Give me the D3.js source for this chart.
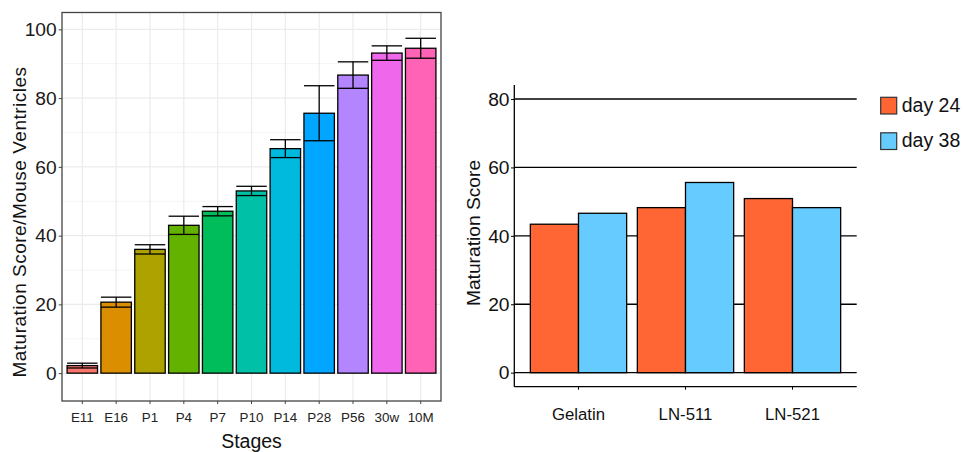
<!DOCTYPE html>
<html>
<head>
<meta charset="utf-8">
<script src="https://cdn.jsdelivr.net/npm/d3@7"></script>
<style>
  html, body { margin: 0; padding: 0; background: #fff; }
  svg { display: block; font-family: "Liberation Sans", Arial, sans-serif; }
</style>
</head>
<body>
<svg id="chart" width="963" height="452"></svg>
<script>
// Stage maturation scores (mean and error)
const stages = ["E11", "E16", "P1", "P4", "P7", "P10", "P14", "P28", "P56", "30w", "10M"];
const stageMeans = [2.2, 20.65, 36.0, 43.0, 47.1, 53.0, 65.3, 75.6, 86.7, 93.1, 94.5];
const stageErrors = [0.7, 1.45, 1.35, 2.65, 1.35, 1.35, 2.6, 8.0, 3.85, 2.1, 2.9];
const stageColors = ["#F8766D", "#DB8E00", "#AEA200", "#64B200", "#00BD5C", "#00C1A7",
                     "#00BADE", "#00A6FF", "#B385FF", "#EF67EB", "#FF63B6"];
const leftTicks = [0, 20, 40, 60, 80, 100];
const leftMinor = [10, 30, 50, 70, 90];

// Substrate comparison
const substrates = ["Gelatin", "LN-511", "LN-521"];
const seriesNames = ["day 24", "day 38"];
const day24 = [43.4, 48.25, 50.9];
const day38 = [46.6, 55.6, 48.25];
const seriesColors = ["#FF6633", "#66CCFF"];
const rightTicks = [0, 20, 40, 60, 80];

const svg = d3.select("#chart");

// ---------- Left panel ----------
const L = { x0: 62, x1: 441, y0: 12.5, y1: 401 };
const xL = d3.scaleBand().domain(stages).range([L.x0, L.x1])
  .paddingInner(0.1).paddingOuter(0.15);
const yL = d3.scaleLinear().domain([-8.1, 104.9]).range([L.y1, L.y0]);

const gL = svg.append("g");
// minor grid
gL.selectAll("line.minor").data(leftMinor).join("line")
  .attr("x1", L.x0).attr("x2", L.x1)
  .attr("y1", d => yL(d)).attr("y2", d => yL(d))
  .attr("stroke", "#f4f4f4").attr("stroke-width", 1);
// major grid
gL.selectAll("line.majorY").data(leftTicks).join("line")
  .attr("x1", L.x0).attr("x2", L.x1)
  .attr("y1", d => yL(d)).attr("y2", d => yL(d))
  .attr("stroke", "#ebebeb").attr("stroke-width", 1.2);
gL.selectAll("line.majorX").data(stages).join("line")
  .attr("y1", L.y0).attr("y2", L.y1)
  .attr("x1", d => xL(d) + xL.bandwidth() / 2).attr("x2", d => xL(d) + xL.bandwidth() / 2)
  .attr("stroke", "#ebebeb").attr("stroke-width", 1.2);

// bars
gL.selectAll("rect.bar").data(stages).join("rect")
  .attr("x", d => xL(d))
  .attr("width", xL.bandwidth())
  .attr("y", (d, i) => yL(stageMeans[i]))
  .attr("height", (d, i) => yL(0) - yL(stageMeans[i]))
  .attr("fill", (d, i) => stageColors[i])
  .attr("stroke", "#000").attr("stroke-width", 1.3);

// error bars
const eb = gL.selectAll("g.err").data(stages).join("g");
eb.append("line")
  .attr("x1", d => xL(d) + xL.bandwidth() / 2).attr("x2", d => xL(d) + xL.bandwidth() / 2)
  .attr("y1", (d, i) => yL(stageMeans[i] - stageErrors[i]))
  .attr("y2", (d, i) => yL(stageMeans[i] + stageErrors[i]))
  .attr("stroke", "#000").attr("stroke-width", 1.3);
eb.append("line")
  .attr("x1", d => xL(d)).attr("x2", d => xL(d) + xL.bandwidth())
  .attr("y1", (d, i) => yL(stageMeans[i] + stageErrors[i]))
  .attr("y2", (d, i) => yL(stageMeans[i] + stageErrors[i]))
  .attr("stroke", "#000").attr("stroke-width", 1.3);
eb.append("line")
  .attr("x1", d => xL(d)).attr("x2", d => xL(d) + xL.bandwidth())
  .attr("y1", (d, i) => yL(stageMeans[i] - stageErrors[i]))
  .attr("y2", (d, i) => yL(stageMeans[i] - stageErrors[i]))
  .attr("stroke", "#000").attr("stroke-width", 1.3);

// panel border
gL.append("rect")
  .attr("x", L.x0).attr("y", L.y0)
  .attr("width", L.x1 - L.x0).attr("height", L.y1 - L.y0)
  .attr("fill", "none").attr("stroke", "#444").attr("stroke-width", 1.3);

// axes
const axL = gL.append("g").attr("transform", `translate(${L.x0},0)`)
  .call(d3.axisLeft(yL).tickValues(leftTicks).tickSize(3.3).tickPadding(2));
axL.select(".domain").remove();
axL.selectAll("line").attr("stroke", "#444");
axL.selectAll("text").attr("font-size", 19.2).attr("fill", "#1a1a1a");

const axB = gL.append("g").attr("transform", `translate(0,${L.y1})`)
  .call(d3.axisBottom(xL).tickSize(3).tickPadding(8));
axB.select(".domain").remove();
axB.selectAll("line").attr("stroke", "#444");
axB.selectAll("text").attr("font-size", 13.4).attr("fill", "#222");

gL.append("text")
  .attr("x", (L.x0 + L.x1) / 2).attr("y", 448)
  .attr("text-anchor", "middle").attr("font-size", 19.5).attr("fill", "#111")
  .text("Stages");
gL.append("text")
  .attr("transform", "translate(26,222) rotate(-90)")
  .attr("text-anchor", "middle").attr("font-size", 19).attr("letter-spacing", 0.5)
  .attr("fill", "#111")
  .text("Maturation Score/Mouse Ventricles");

// ---------- Right panel ----------
const R = { x0: 514.3, x1: 856.7, y0: 85, y1: 386.7 };
const xR = d3.scaleBand().domain(substrates).range([R.x0, R.x1])
  .paddingInner(0.1).paddingOuter(0.15);
const xS = d3.scaleBand().domain(seriesNames).range([0, xR.bandwidth()]);
const yR = d3.scaleLinear().domain([-4.1, 84.1]).range([R.y1, R.y0]);

const gR = svg.append("g");
gR.selectAll("line.grid").data(rightTicks).join("line")
  .attr("x1", R.x0).attr("x2", R.x1)
  .attr("y1", d => yR(d)).attr("y2", d => yR(d))
  .attr("stroke", "#000").attr("stroke-width", 1.3);

const series = [day24, day38];
seriesNames.forEach((name, s) => {
  gR.selectAll(`rect.s${s}`).data(substrates).join("rect")
    .attr("x", d => xR(d) + xS(name))
    .attr("width", xS.bandwidth())
    .attr("y", (d, i) => yR(series[s][i]))
    .attr("height", (d, i) => yR(0) - yR(series[s][i]))
    .attr("fill", seriesColors[s])
    .attr("stroke", "#000").attr("stroke-width", 1.3);
});

const axR = gR.append("g").attr("transform", `translate(${R.x0},0)`)
  .call(d3.axisLeft(yR).tickValues(rightTicks).tickSize(3.3).tickPadding(1.5));
axR.select(".domain").attr("d", `M0,${R.y0}V${R.y1}`).attr("stroke", "#000").attr("stroke-width", 1.3);
axR.selectAll(".tick line").attr("stroke", "#000");
axR.selectAll("text").attr("font-size", 19.2).attr("fill", "#111");

const axRB = gR.append("g").attr("transform", `translate(0,${R.y1})`)
  .call(d3.axisBottom(xR).tickSize(3).tickPadding(18));
axRB.select(".domain").attr("d", `M${R.x0},0H${R.x1}`).attr("stroke", "#000").attr("stroke-width", 1.3);
axRB.selectAll(".tick line").attr("stroke", "#000");
axRB.selectAll("text").attr("font-size", 16.8).attr("fill", "#111");

gR.append("text")
  .attr("transform", `translate(480,233) rotate(-90)`)
  .attr("text-anchor", "middle").attr("font-size", 19.2).attr("fill", "#111")
  .text("Maturation Score");

// legend
const leg = gR.selectAll("g.leg").data(seriesNames).join("g")
  .attr("transform", (d, i) => `translate(880.7,${97.3 + i * 35.5})`);
leg.append("rect")
  .attr("width", 16).attr("height", 16.7)
  .attr("fill", (d, i) => seriesColors[i])
  .attr("stroke", "#333").attr("stroke-width", 1.2);
leg.append("text")
  .attr("x", 21).attr("y", 8.4).attr("dy", "0.3em")
  .attr("font-size", 19.5).attr("fill", "#111")
  .text(d => d);
</script>
</body>
</html>
